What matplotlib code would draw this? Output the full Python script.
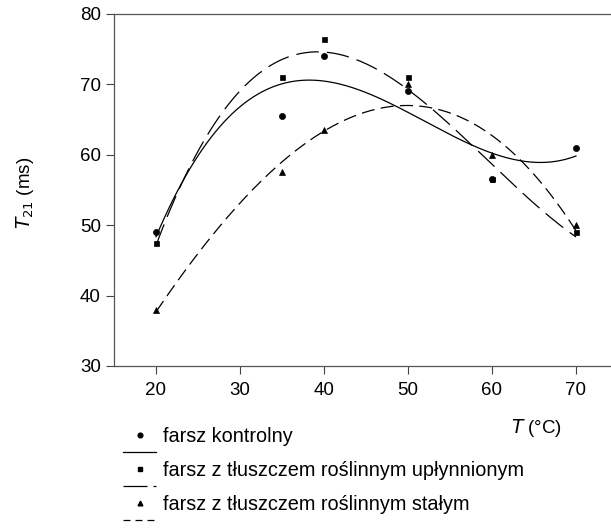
import numpy as np
import matplotlib
matplotlib.use("Agg")
import matplotlib.pyplot as plt
from matplotlib.lines import Line2D

plt.rcParams['font.family'] = ['Liberation Sans', 'DejaVu Sans']

# temperature [°C] and T21 [ms]
temp_ctrl = [20, 35, 40, 50, 60, 70]
t21_ctrl = [49.0, 65.5, 74.0, 69.0, 56.5, 61.0]

# point at 60 °C sits under the control circle
temp_liq = [20, 35, 40, 50, 60, 70]
t21_liq = [47.5, 71.0, 76.5, 71.0, 56.5, 49.0]

temp_sol = [20, 35, 40, 50, 60, 70]
t21_sol = [38.0, 57.5, 63.5, 70.0, 60.0, 50.0]

labels = ['farsz kontrolny',
          'farsz z tłuszczem roślinnym upłynnionym',
          'farsz z tłuszczem roślinnym stałym']
markers = ['o', 's', '^']
marker_sizes = [4.4, 3.6, 4.4]
dashes = [None, (18, 6.5), (10.5, 5)]
legend_dashes = [None, (19.2, 4.8, 2.4, 30), (5.6, 4.0)]

fig = plt.figure(figsize=(6.11, 5.31), dpi=100)
ax = fig.add_axes([114 / 611, 165 / 531, 504 / 611, 352 / 531])

series = [(temp_ctrl, t21_ctrl), (temp_liq, t21_liq), (temp_sol, t21_sol)]
xs = np.linspace(20, 70, 200)
for i, ((x, y), m, ms, d) in enumerate(zip(series, markers, marker_sizes,
                                           dashes)):
    ax.plot(x, y, m, color='black', ms=ms, mec='black', mew=0.5,
            zorder=5 - i)
    # cubic regression curve, as in the original
    c = np.polyfit(x, y, 3)
    ln, = ax.plot(xs, np.polyval(c, xs), color='black', lw=0.9)
    if d is not None:
        ln.set_dashes(d)

ax.set_xlim(15, 75)
ax.set_ylim(30, 80)
ax.set_xticks([20, 30, 40, 50, 60, 70])
ax.set_yticks([30, 40, 50, 60, 70, 80])
ax.tick_params(direction='out', length=5.5, width=0.8, labelsize=13.5,
               color='#444444')
ax.tick_params(axis='x', pad=6)
ax.tick_params(axis='y', pad=4)
for s in ax.spines.values():
    s.set_color('#555555')
    s.set_linewidth(0.9)
ax.spines['right'].set_visible(False)

fig.text(25 / 611, 1 - 193 / 531, r'$T_{21}$ (ms)', rotation=90,
         ha='center', va='center', fontsize=13.5)
fig.text(537 / 611, 1 - 428 / 531, r'$T$ (°C)', ha='center', va='center',
         fontsize=13.5)

# legend in SigmaPlot style: marker above a line sample
leg_y = [437, 471, 505]
for lab, m, d, yy in zip(labels, markers, legend_dashes, leg_y):
    yf = 1 - yy / 531
    fig.add_artist(Line2D([140 / 611], [yf + 2 / 531], marker=m,
                          color='black', ms=3.4, ls='none',
                          transform=fig.transFigure))
    seg = Line2D([123 / 611, 156 / 611], [yf - 15 / 531] * 2,
                 color='black', lw=0.9, transform=fig.transFigure)
    if d is not None:
        seg.set_dashes(d)
    fig.add_artist(seg)
    fig.text(163 / 611, yf, lab, ha='left', va='center', fontsize=14.3)

fig.savefig('out.png', dpi=100)
